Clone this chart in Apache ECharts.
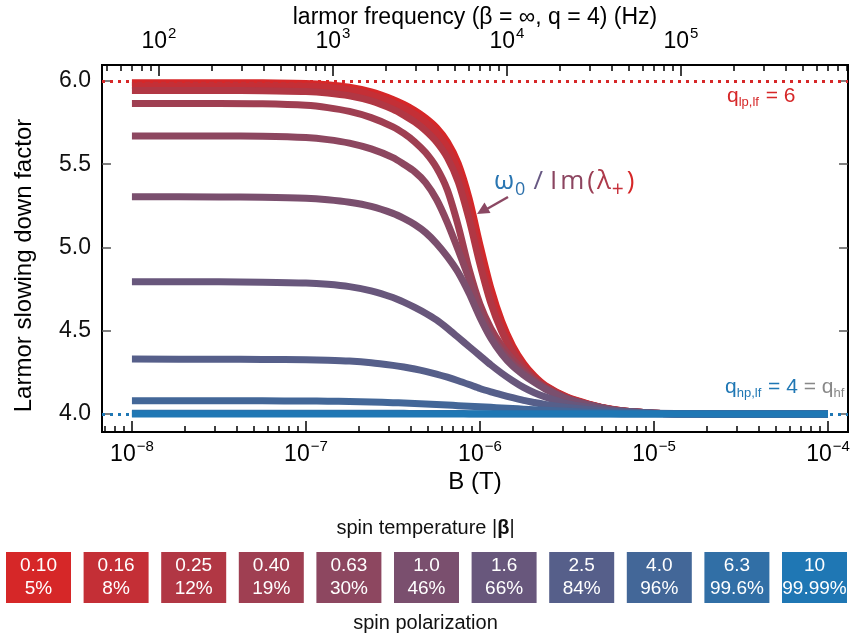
<!DOCTYPE html>
<html>
<head>
<meta charset="utf-8">
<script src="https://cdn.jsdelivr.net/npm/echarts@6/dist/echarts.min.js"></script>
<style>
  html, body { margin: 0; padding: 0; background: #fff; }
  #chart { width: 851px; height: 640px; }
</style>
</head>
<body>
<div id="chart"></div>
<script>
// Magnetic field samples (T), denser through the crossover near 1 uT
const FIELD_T = [1e-8, 3.162e-8, 5.623e-8, 1e-7, 1.334e-7, 1.778e-7, 2.371e-7, 3.162e-7,
  3.652e-7, 4.217e-7, 4.870e-7, 5.623e-7, 6.494e-7, 7.499e-7, 8.660e-7, 1e-6,
  1.155e-6, 1.334e-6, 1.540e-6, 1.778e-6, 2.054e-6, 2.371e-6, 3.162e-6, 4.217e-6,
  5.623e-6, 7.499e-6, 1e-5, 1.778e-5, 3.162e-5, 1e-4];

// Slowing-down factor omega0 / Im(lambda+) for each spin temperature |beta|
const Q_B010 = [5.990, 5.990, 5.989, 5.985, 5.977, 5.962, 5.934, 5.889, 5.859, 5.823, 5.778, 5.720, 5.635, 5.505, 5.295, 5.015, 4.755, 4.555, 4.410, 4.305, 4.228, 4.172, 4.102, 4.060, 4.030, 4.013, 4.005, 4.001, 4.000, 4.000];
const Q_B016 = [5.975, 5.975, 5.974, 5.970, 5.962, 5.946, 5.917, 5.870, 5.838, 5.800, 5.752, 5.690, 5.600, 5.460, 5.240, 4.960, 4.710, 4.525, 4.390, 4.292, 4.220, 4.167, 4.099, 4.058, 4.029, 4.013, 4.005, 4.001, 4.000, 4.000];
const Q_B025 = [5.943, 5.943, 5.942, 5.937, 5.928, 5.911, 5.880, 5.830, 5.795, 5.754, 5.702, 5.635, 5.540, 5.395, 5.170, 4.900, 4.665, 4.495, 4.370, 4.280, 4.213, 4.163, 4.097, 4.057, 4.029, 4.013, 4.005, 4.001, 4.000, 4.000];
const Q_B040 = [5.865, 5.865, 5.863, 5.854, 5.840, 5.817, 5.780, 5.725, 5.685, 5.635, 5.570, 5.480, 5.345, 5.130, 4.870, 4.660, 4.515, 4.410, 4.330, 4.262, 4.205, 4.158, 4.094, 4.056, 4.028, 4.013, 4.005, 4.001, 4.000, 4.000];
const Q_B063 = [5.670, 5.670, 5.668, 5.660, 5.648, 5.627, 5.592, 5.540, 5.500, 5.455, 5.390, 5.290, 5.150, 4.985, 4.810, 4.625, 4.480, 4.380, 4.305, 4.248, 4.198, 4.155, 4.092, 4.055, 4.028, 4.013, 4.005, 4.001, 4.000, 4.000];
const Q_B100 = [5.305, 5.304, 5.302, 5.296, 5.287, 5.272, 5.247, 5.205, 5.175, 5.138, 5.090, 5.025, 4.945, 4.850, 4.725, 4.580, 4.455, 4.360, 4.288, 4.235, 4.190, 4.150, 4.090, 4.054, 4.028, 4.013, 4.005, 4.001, 4.000, 4.000];
const Q_B160 = [4.795, 4.794, 4.792, 4.787, 4.779, 4.765, 4.740, 4.700, 4.672, 4.640, 4.605, 4.565, 4.515, 4.460, 4.405, 4.350, 4.295, 4.245, 4.200, 4.160, 4.128, 4.103, 4.062, 4.040, 4.023, 4.012, 4.005, 4.001, 4.000, 4.000];
const Q_B250 = [4.330, 4.329, 4.328, 4.326, 4.323, 4.318, 4.308, 4.292, 4.282, 4.270, 4.256, 4.240, 4.221, 4.200, 4.177, 4.153, 4.133, 4.115, 4.098, 4.082, 4.069, 4.057, 4.039, 4.026, 4.017, 4.010, 4.005, 4.001, 4.000, 4.000];
const Q_B400 = [4.080, 4.080, 4.079, 4.078, 4.077, 4.075, 4.072, 4.068, 4.066, 4.063, 4.060, 4.057, 4.054, 4.050, 4.046, 4.043, 4.040, 4.036, 4.033, 4.029, 4.026, 4.022, 4.016, 4.011, 4.008, 4.005, 4.003, 4.001, 4.000, 4.000];
const Q_B630 = [4.004, 4.004, 4.004, 4.004, 4.004, 4.004, 4.004, 4.004, 4.004, 4.003, 4.003, 4.003, 4.003, 4.003, 4.002, 4.002, 4.002, 4.002, 4.002, 4.002, 4.001, 4.001, 4.001, 4.001, 4.001, 4.000, 4.000, 4.000, 4.000, 4.000];
const Q_B1000 = [4.000, 4.000, 4.000, 4.000, 4.000, 4.000, 4.000, 4.000, 4.000, 4.000, 4.000, 4.000, 4.000, 4.000, 4.000, 4.000, 4.000, 4.000, 4.000, 4.000, 4.000, 4.000, 4.000, 4.000, 4.000, 4.000, 4.000, 4.000, 4.000, 4.000];

const Q_CURVES = [Q_B010, Q_B016, Q_B025, Q_B040, Q_B063, Q_B100, Q_B160, Q_B250, Q_B400, Q_B630, Q_B1000];

// Spin temperature |beta| and the matching spin polarization
const BETA_LABELS = ['0.10', '0.16', '0.25', '0.40', '0.63', '1.0', '1.6', '2.5', '4.0', '6.3', '10'];
const POLARIZATION_LABELS = ['5%', '8%', '12%', '19%', '30%', '46%', '66%', '84%', '96%', '99.6%', '99.99%'];
const CURVE_COLORS = ['#d62728', '#c42f36', '#b13744', '#9f3f52', '#8d4760', '#7a4f6e',
  '#68577c', '#565f8a', '#436798', '#316fa6', '#1f77b4'];

// Reference levels
const Q_LP_LF = 6;
const Q_HP_LF = 4;

// Axis extents and ticks
const B_MIN = 6.73e-9;
const B_MAX = 1.303e-4;
const HZ_PER_TESLA = 7.0e9;   // larmor frequency for beta = inf, q = 4
const Q_MIN = 3.892;
const Q_MAX = 6.096;
const Q_TICKS = [4.0, 4.5, 5.0, 5.5, 6.0];

const FONT = '"Liberation Sans", Arial, Helvetica, sans-serif';
const LABEL_FONT = '"Open Sans", "DejaVu Sans", sans-serif';

function powerLabel(v) {
  const e = Math.log10(v);
  if (Math.abs(e - Math.round(e)) > 1e-6) return '';
  const n = Math.round(e);
  return '{b|10}{s|' + (n < 0 ? '\u2212' + (-n) : n) + '}';
}
const powerRich = {
  b: { fontSize: 23, fontFamily: FONT, color: '#000', lineHeight: 26, verticalAlign: 'bottom' },
  s: { fontSize: 15, fontFamily: FONT, color: '#000', lineHeight: 15, verticalAlign: 'bottom', padding: [0, 0, 12, 1] }
};

const chart = echarts.init(document.getElementById('chart'), null, { renderer: 'canvas' });

const series = Q_CURVES.map((q, i) => ({
  name: BETA_LABELS[i],
  type: 'line',
  xAxisIndex: 0,
  yAxisIndex: 0,
  data: FIELD_T.map((b, k) => [b, q[k]]),
  showSymbol: false,
  smooth: 0.25,
  lineStyle: { color: CURVE_COLORS[i], width: 7, cap: 'butt', join: 'round' },
  itemStyle: { color: CURVE_COLORS[i] },
  z: 3,
  silent: true
}));

// dotted reference levels drawn under the curves
series.unshift({
  type: 'line',
  xAxisIndex: 0,
  yAxisIndex: 0,
  data: [],
  z: 1,
  silent: true,
  markLine: {
    silent: true,
    symbol: 'none',
    label: { show: false },
    data: [
      { yAxis: Q_LP_LF, lineStyle: { color: '#d62728', type: [3, 5], width: 3, cap: 'butt' } },
      { yAxis: Q_HP_LF, lineStyle: { color: '#1f77b4', type: [3, 5], width: 3, cap: 'butt' } }
    ]
  }
});

const tickStyle = { color: '#000', width: 1.5 };

const option = {
  animation: false,
  backgroundColor: '#fff',
  textStyle: { fontFamily: FONT },
  grid: {
    left: 102, right: 3, top: 65, bottom: 208, outerBoundsMode: 'none', containLabel: false,
    show: true, borderColor: '#000', borderWidth: 2, backgroundColor: 'transparent'
  },
  xAxis: [
    {
      type: 'log', logBase: 10, min: B_MIN, max: B_MAX, position: 'bottom',
      axisLine: { show: false },
      axisTick: { show: true, inside: true, length: 11, lineStyle: tickStyle },
      minorTick: { show: true, splitNumber: 9, length: 6, lineStyle: tickStyle },
      splitLine: { show: false },
      minorSplitLine: { show: false },
      axisLabel: { margin: 8, formatter: powerLabel, rich: powerRich },
      name: 'B (T)', nameLocation: 'middle', nameGap: 38, nameMoveOverlap: false,
      nameTextStyle: { fontSize: 24, color: '#000', fontFamily: FONT }
    },
    {
      type: 'log', logBase: 10, min: B_MIN * HZ_PER_TESLA, max: B_MAX * HZ_PER_TESLA, position: 'top',
      axisLine: { show: false },
      axisTick: { show: true, inside: true, length: 11, lineStyle: tickStyle },
      minorTick: { show: true, splitNumber: 9, length: 6, lineStyle: tickStyle },
      splitLine: { show: false },
      minorSplitLine: { show: false },
      axisLabel: { margin: 12, formatter: powerLabel, rich: powerRich },
      name: 'larmor frequency (\u03b2 = \u221e, q = 4) (Hz)', nameLocation: 'middle', nameGap: 36,
      nameMoveOverlap: false,
      nameTextStyle: { fontSize: 23, color: '#000', fontFamily: FONT }
    }
  ],
  yAxis: [
    {
      type: 'value', min: Q_MIN, max: Q_MAX, position: 'left',
      axisLine: { show: false },
      axisTick: { show: true, inside: true, length: 9, customValues: Q_TICKS, lineStyle: { color: '#555', width: 1.5 } },
      splitLine: { show: false },
      axisLabel: { customValues: Q_TICKS, margin: 11, fontSize: 23, color: '#111', formatter: v => v.toFixed(1) },
      name: 'Larmor slowing down factor', nameLocation: 'middle', nameGap: 66, nameMoveOverlap: false,
      nameTextStyle: { fontSize: 24, color: '#000', fontFamily: FONT, padding: [0, 34, 0, 0] }
    },
    {
      type: 'value', min: Q_MIN, max: Q_MAX, position: 'right',
      axisLine: { show: false },
      axisTick: { show: true, inside: true, length: 9, customValues: Q_TICKS, lineStyle: { color: '#555', width: 1.5 } },
      splitLine: { show: false },
      axisLabel: { show: false }
    }
  ],
  series: series
};

chart.setOption(option);

// annotations and the spin-temperature key
const graphics = [];

graphics.push({
  type: 'text', left: 727, top: 86, silent: true,
  style: {
    text: '{q|q}{s|lp,lf}{q| = 6}',
    rich: {
      q: { fontSize: 21, fontFamily: FONT, fill: '#d62728', verticalAlign: 'top', lineHeight: 24 },
      s: { fontSize: 13, fontFamily: FONT, fill: '#d62728', verticalAlign: 'top', lineHeight: 24, padding: [10, 1, 0, 0] }
    }
  }
});

graphics.push({
  type: 'text', left: 725, top: 377, silent: true,
  style: {
    text: '{q|q}{s|hp,lf}{q| = 4 }{g|= q}{gs|hf}',
    rich: {
      q: { fontSize: 21, fontFamily: FONT, fill: '#1f77b4', verticalAlign: 'top', lineHeight: 24 },
      s: { fontSize: 13, fontFamily: FONT, fill: '#1f77b4', verticalAlign: 'top', lineHeight: 24, padding: [10, 1, 0, 0] },
      g: { fontSize: 21, fontFamily: FONT, fill: '#888', verticalAlign: 'top', lineHeight: 24 },
      gs: { fontSize: 13, fontFamily: FONT, fill: '#888', verticalAlign: 'top', lineHeight: 24, padding: [10, 0, 0, 0] }
    }
  }
});

// curve-family label, colour running from blue to red
const tok = (size, fill, pad) => ({ fontSize: size, fontFamily: LABEL_FONT, fill: fill, verticalAlign: 'top', lineHeight: 32, padding: pad });
graphics.push({
  type: 'text', left: 494, top: 169, silent: true,
  style: {
    text: '{w|\u03c9}{ws|0}{sl|/}{i|I}{m|m}{lp|(}{l|\u03bb}{p|+}{r|)}',
    rich: {
      w: tok(26, '#2a76b2', [0, 0, 0, 0]),
      ws: tok(18, '#2f72ac', [12, 8, 0, 1]),
      sl: tok(26, '#675883', [0, 7, 0, 0]),
      i: tok(26, '#8a4460', [0, 3, 0, 0]),
      m: tok(26, '#8c4560', [0, 3, 0, 0]),
      lp: tok(26, '#9a3f55', [0, 2, 0, 0]),
      l: tok(26, '#ad394a', [0, 1, 0, 0]),
      p: tok(21, '#c7303a', [11, 3, 0, 0]),
      r: tok(26, '#d62728', [0, 0, 0, 0])
    }
  }
});

// arrow pointing at the curve family
graphics.push({
  type: 'line', silent: true,
  shape: { x1: 508, y1: 197, x2: 486, y2: 209.5 },
  style: { stroke: '#8b4863', lineWidth: 2.5 }
});
graphics.push({
  type: 'polygon', silent: true,
  shape: { points: [[477, 214], [490.5, 213], [484.5, 202.5]] },
  style: { fill: '#8b4863' }
});

// key title
graphics.push({
  type: 'text', left: 'center', top: 518, silent: true,
  style: {
    text: '{t|spin temperature |}{b|\u03b2}{t||}',
    rich: {
      t: { fontSize: 20, fontFamily: FONT, fill: '#111' },
      b: { fontSize: 20, fontFamily: FONT, fill: '#111', fontWeight: 'bold' }
    }
  }
});
graphics.push({
  type: 'text', left: 'center', top: 613, silent: true,
  style: { text: 'spin polarization', fontSize: 20, fontFamily: FONT, fill: '#111' }
});

BETA_LABELS.forEach((label, i) => {
  const x = 6 + 77.6 * i;
  graphics.push({
    type: 'rect', silent: true,
    shape: { x: x, y: 552, width: 65, height: 51 },
    style: { fill: CURVE_COLORS[i] }
  });
  graphics.push({
    type: 'text', silent: true,
    x: x + 32.5, y: 577.5,
    style: {
      text: label + '\n' + POLARIZATION_LABELS[i],
      fill: '#fff', fontSize: 19, fontFamily: FONT,
      align: 'center', verticalAlign: 'middle', lineHeight: 23
    }
  });
});

chart.setOption({ graphic: graphics });
</script>
</body>
</html>
